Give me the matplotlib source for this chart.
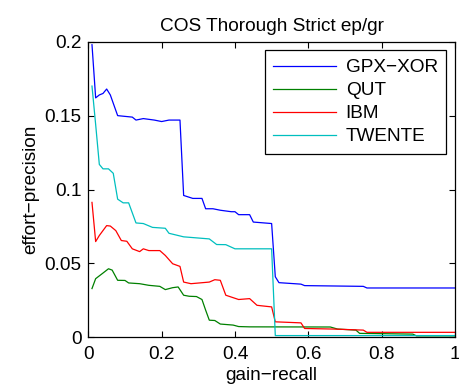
import matplotlib
matplotlib.use("Agg")
import matplotlib.pyplot as plt

plt.rcParams['font.family'] = ['Liberation Sans', 'DejaVu Sans']

# data
gpx_x = [0.01, 0.02, 0.03, 0.04, 0.05, 0.06, 0.08, 0.12, 0.13, 0.15, 0.18, 0.20, 0.22, 0.25,
         0.26, 0.285, 0.31, 0.32, 0.34, 0.36, 0.39, 0.40, 0.41, 0.44, 0.45, 0.50, 0.51, 0.52,
         0.58, 0.59, 0.75, 0.76, 1.0]
gpx_y = [0.198, 0.162, 0.164, 0.165, 0.168, 0.164, 0.150, 0.149, 0.147, 0.148, 0.147, 0.146,
         0.147, 0.147, 0.096, 0.094, 0.094, 0.087, 0.087, 0.086, 0.085, 0.085, 0.083, 0.083,
         0.078, 0.077, 0.041, 0.037, 0.036, 0.035, 0.0345, 0.0334, 0.0334]

qut_x = [0.01, 0.02, 0.04, 0.055, 0.065, 0.08, 0.10, 0.11, 0.14, 0.165, 0.195, 0.21, 0.23,
         0.245, 0.26, 0.275, 0.295, 0.31, 0.32, 0.33, 0.345, 0.36, 0.395, 0.41, 0.44, 0.66,
         0.68, 0.73, 0.74, 0.885, 0.895, 1.0]
qut_y = [0.033, 0.0397, 0.0435, 0.0464, 0.0455, 0.0386, 0.0385, 0.0368, 0.0363, 0.0352, 0.0345,
         0.0323, 0.0336, 0.0341, 0.0285, 0.0278, 0.0276, 0.0256, 0.0184, 0.0116, 0.0114, 0.009,
         0.0083, 0.0073, 0.0071, 0.0070, 0.0056, 0.0049, 0.0027, 0.0022, 0.001, 0.001]

ibm_x = [0.01, 0.02, 0.03, 0.05, 0.06, 0.075, 0.09, 0.105, 0.12, 0.14, 0.15, 0.165, 0.195,
         0.21, 0.23, 0.25, 0.26, 0.28, 0.33, 0.345, 0.36, 0.375, 0.41, 0.44, 0.46, 0.47, 0.50,
         0.51, 0.58, 0.59, 0.67, 0.75, 0.76, 1.0]
ibm_y = [0.0913, 0.0648, 0.0689, 0.0756, 0.0753, 0.0722, 0.0655, 0.065, 0.0599, 0.058, 0.0599,
         0.0587, 0.0587, 0.0554, 0.0498, 0.048, 0.0374, 0.0363, 0.0374, 0.039, 0.0386, 0.0285,
         0.0256, 0.0262, 0.0217, 0.0214, 0.0206, 0.0105, 0.0098, 0.006, 0.0056, 0.0049, 0.0034,
         0.0034]

twente_x = [0.01, 0.02, 0.03, 0.04, 0.055, 0.068, 0.08, 0.095, 0.11, 0.13, 0.15, 0.175, 0.21,
            0.22, 0.26, 0.33, 0.35, 0.375, 0.40, 0.50, 0.51, 1.0]
twente_y = [0.170, 0.144, 0.117, 0.114, 0.114, 0.111, 0.0935, 0.091, 0.091, 0.0774, 0.077,
            0.0744, 0.0738, 0.0704, 0.068, 0.0666, 0.0628, 0.0627, 0.0599, 0.0599, 0.0012, 0.0012]

x_ticks = [0, 0.2, 0.4, 0.6, 0.8, 1]
x_labels = ['0', '0.2', '0.4', '0.6', '0.8', '1']
y_ticks = [0, 0.05, 0.1, 0.15, 0.2]
y_labels = ['0', '0.05', '0.1', '0.15', '0.2']

fs = 13.7

fig = plt.figure(figsize=(4.6, 3.9), dpi=100)
ax = fig.add_axes([0.192, 0.135, 0.797, 0.758])

lw = 0.9
ax.plot(gpx_x, gpx_y, color=(0, 0, 1), lw=lw, label='GPX\u2212XOR')
ax.plot(qut_x, qut_y, color=(0, 0.5, 0), lw=lw, label='QUT')
ax.plot(ibm_x, ibm_y, color=(1, 0, 0), lw=lw, label='IBM')
ax.plot(twente_x, twente_y, color=(0, 0.75, 0.75), lw=lw, label='TWENTE')

ax.set_xlim(0, 1)
ax.set_ylim(0, 0.2)
ax.set_xticks(x_ticks)
ax.set_xticklabels(x_labels)
ax.set_yticks(y_ticks)
ax.set_yticklabels(y_labels)
ax.tick_params(direction='in', top=True, right=True, labelsize=fs, length=4, width=0.8)
ax.tick_params(axis='x', pad=6)
ax.tick_params(axis='y', pad=5)
for s in ax.spines.values():
    s.set_linewidth(0.9)

ax.set_title('COS Thorough Strict ep/gr', fontsize=fs, pad=8)
ax.set_xlabel('gain\u2212recall', fontsize=fs, labelpad=3)
ax.set_ylabel('effort\u2212precision', fontsize=fs, labelpad=4)

leg = ax.legend(loc='upper right', fontsize=fs, fancybox=False, framealpha=1,
                edgecolor='black', handlelength=3.3, borderaxespad=0.45,
                labelspacing=0.3, handletextpad=0.5, borderpad=0.45)
leg.get_frame().set_linewidth(0.9)

fig.savefig('out.png', dpi=100)
